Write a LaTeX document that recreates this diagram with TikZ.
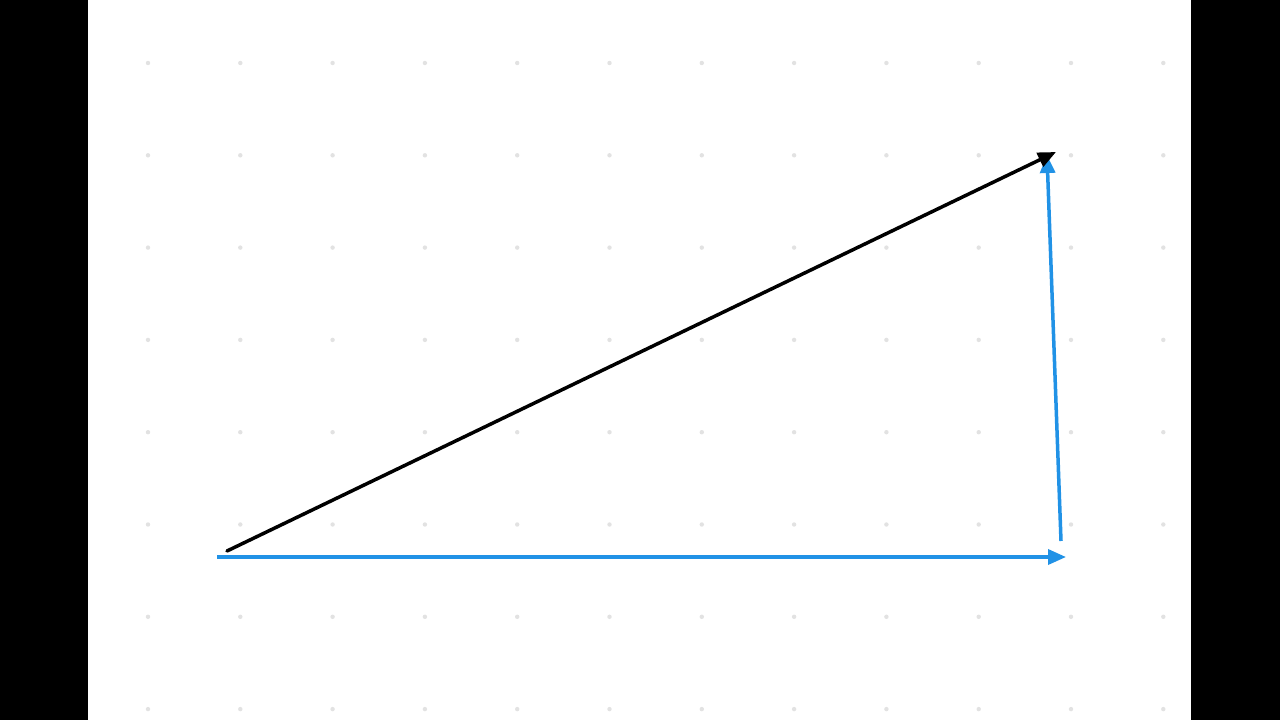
\documentclass[tikz,border=0pt]{standalone}
\usetikzlibrary{arrows.meta}
\definecolor{vblue}{HTML}{2192E6}
\definecolor{dotgray}{HTML}{E2E2E2}
\tikzset{
  vec/.style={line width=3.5pt,-{Triangle[length=18pt,width=15pt]}},
  dot/.style={fill=dotgray,draw=none}
}
\begin{document}
\begin{tikzpicture}[x=1pt,y=-1pt]
\useasboundingbox (0,0) rectangle (1280,720);
\fill[black] (0,0) rectangle (88,720);
\fill[black] (1191,0) rectangle (1280,720);
\fill[white] (88,0) rectangle (1191,720);
\foreach \i in {0,...,11}{
  \foreach \j in {0,...,7}{
    \fill[dot] ({148+\i*92.3},{63+\j*92.3}) circle (2.2pt);
  }
}
\coordinate (O) at (217,557);
\coordinate (A) at (1066,557);
\coordinate (Bs) at (1061,541);
\coordinate (B) at (1047,155);
\coordinate (Os) at (227,551);
\coordinate (C) at (1056,152);
\draw[vec,vblue] (O) -- (A);
\draw[vec,vblue] (Bs) -- (B);
\draw[vec,black,line cap=round] (Os) -- (C);
\end{tikzpicture}
\end{document}
